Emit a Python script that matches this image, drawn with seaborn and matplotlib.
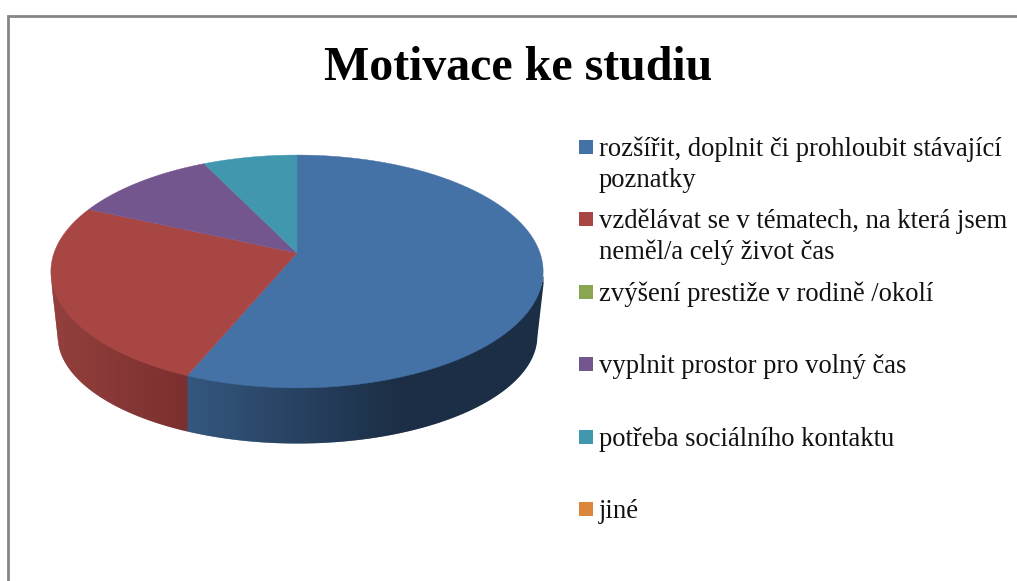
import numpy as np
import matplotlib
matplotlib.use('Agg')
import matplotlib.pyplot as plt
import seaborn as sns

sns.set_theme(style='white')
plt.rcParams['font.family'] = ['Liberation Serif', 'DejaVu Serif']

nadpis = 'Motivace ke studiu'
kategorie = ['rozšířit, doplnit či prohloubit stávající\npoznatky',
             'vzdělávat se v tématech, na která jsem\nneměl/a celý život čas',
             'zvýšení prestiže v rodině /okolí',
             'vyplnit prostor pro volný čas',
             'potřeba sociálního kontaktu',
             'jiné']
hodnoty = [56.3, 25.4, 0, 11.1, 7.2, 0]
barvy = sns.color_palette(['#4471a6', '#a84644', '#8ba651', '#74568e', '#4197ae', '#dc863b'])

W, H = 1017, 581

# pie geometry in pixels, apex sits above the ellipse centre because of perspective
apex_x, apex_y = 297, 253
k, A, B = 0.1587, 113.5, 243
# lower ellipse for the side wall
dno_cy, dno_rx, dno_ry = 335, 240, 108
top_cy, top_rx, top_ry = 271.5, 246, 116.5


def projekce(uhel):
    # angle clockwise from the top of the disc -> screen position
    u, v = np.sin(uhel), np.cos(uhel)
    return apex_x + B * u / (1 + k * v), apex_y - A * v / (1 + k * v)


fig = plt.figure(figsize=(W / 100, H / 100), dpi=100, facecolor='white')
ax = fig.add_axes([0, 0, 1, 1])
ax.set_xlim(0, W)
ax.set_ylim(H, 0)
ax.axis('off')

# chart frame, only left and top show
ax.plot([8, 8, W], [H, 16, 16], color='#868686', lw=2.0, solid_joinstyle='miter')

# where the front wall changes slice: boundary blue/red
hranice_x, _ = projekce(np.radians(hodnoty[0] / sum(hodnoty) * 360))


def spodek(x):
    levy, pravy = apex_x - dno_rx, apex_x + dno_rx
    if x < levy:
        return 283 + (x - 51) / (levy - 51) * (dno_cy - 283)
    if x > pravy:
        return 283 + (543 - x) / (543 - pravy) * (dno_cy - 283)
    return dno_cy + dno_ry * np.sqrt(1 - ((x - apex_x) / dno_rx) ** 2)


red_l = np.array(matplotlib.colors.to_rgb('#93403d'))
red_r = np.array(matplotlib.colors.to_rgb('#7a2f2e'))
blue_l = np.array(matplotlib.colors.to_rgb('#34577f'))
blue_r = np.array(matplotlib.colors.to_rgb('#1b2e45'))

# strips overlap a little so no white seams show through
sloupce = np.arange(51, 543, 1.0)
for x0 in sloupce:
    x1 = min(x0 + 1.6, 543)
    xm = x0 + 0.5
    if xm < hranice_x:
        t = (xm - 51) / (hranice_x - 51)
        c = red_l + (red_r - red_l) * t
    else:
        t = min((xm - hranice_x) / 210, 1)
        c = blue_l + (blue_r - blue_l) * t
    d = ((xm - apex_x) / top_rx) ** 2
    y_top = top_cy + top_ry * np.sqrt(max(1 - d, 0)) - 3
    ax.fill_between([x0, x1], [y_top, y_top], [spodek(x0), spodek(x1)],
                    facecolor=c, lw=0)

# top face, one polygon per slice
zacatek = 0.0
for hodnota, barva in zip(hodnoty, barvy):
    if hodnota == 0:
        continue
    konec = zacatek + hodnota / sum(hodnoty) * 2 * np.pi
    uhly = np.linspace(zacatek, konec, 200)
    xs, ys = projekce(uhly)
    ax.fill(np.r_[apex_x, xs], np.r_[apex_y, ys], color=barva, lw=0.3)
    zacatek = konec

ax.text(518.5, 80, nadpis, ha='center', va='baseline', fontsize=34.5,
        fontweight='bold', color='black')

# legend, even slots whether the label has one line or two
for i, (popis, barva) in enumerate(zip(kategorie, barvy)):
    y_sw = 140 + i * 72.4
    ax.add_patch(plt.Rectangle((579, y_sw), 14, 14, facecolor=barva, edgecolor='none'))
    for j, radek in enumerate(popis.split('\n')):
        ax.text(599, y_sw + 16 + j * 31, radek, ha='left', va='baseline',
                fontsize=19.2, color='#111111')

fig.savefig('out.png', dpi=100, facecolor='white')
